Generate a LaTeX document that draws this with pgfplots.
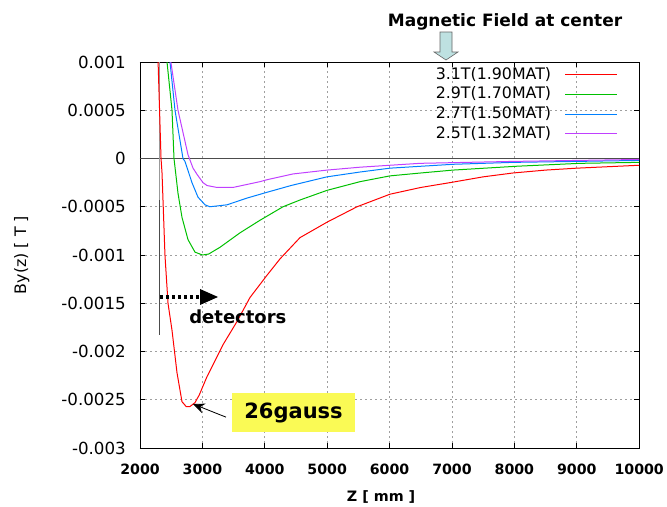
\documentclass[border=0pt]{standalone}
\usepackage{fontspec}
\setmainfont{DejaVu Sans}
\usepackage{pgfplots}
\pgfplotsset{compat=1.18}
\usetikzlibrary{arrows.meta}
\definecolor{gpred}{RGB}{255,0,0}
\definecolor{gpgreen}{RGB}{0,192,0}
\definecolor{gpblue}{RGB}{0,128,255}
\definecolor{gppurple}{RGB}{192,64,255}
\definecolor{boxyellow}{RGB}{250,250,85}
\definecolor{arrowcyan}{RGB}{190,225,225}

\begin{document}
\begin{tikzpicture}
\begin{axis}[
    scale only axis,
    width=299.5pt, height=231.6pt,
    xmin=2000, xmax=10000,
    ymin=-0.003, ymax=0.001,
    xtick={2000,3000,4000,5000,6000,7000,8000,9000,10000},
    xticklabels={2000,3000,4000,5000,6000,7000,8000,9000,10000},
    ytick={-0.003,-0.0025,-0.002,-0.0015,-0.001,-0.0005,0,0.0005,0.001},
    yticklabels={-0.003,-0.0025,-0.002,-0.0015,-0.001,-0.0005,0,0.0005,0.001},
    scaled ticks=false,
    tick align=inside,
    major tick length=3pt,
    grid=major,
    grid style={gray!75, dash pattern=on 1pt off 2pt},
    axis line style={black, line width=0.5pt},
    tick style={black, line width=0.5pt},
    xticklabel style={font=\bfseries\fontsize{8.5}{10}\selectfont, yshift=-6pt},
    yticklabel style={font=\fontsize{10}{12}\selectfont, xshift=-5pt},
    xlabel={Z [ mm ]},
    ylabel={By(z) [ T ]},
    xlabel style={font=\bfseries\fontsize{8.6}{10}\selectfont, at={(axis description cs:0.483,-0.127)}, anchor=center},
    ylabel style={font=\fontsize{9.5}{11}\selectfont, at={(axis description cs:-0.237,0.5)}, anchor=center},
    legend plot pos=right,
    legend cell align=right,
    legend image code/.code={\draw[#1] (0pt,0pt) -- (31pt,0pt);},
    legend style={at={(rel axis cs:1,1)}, anchor=north east, xshift=-10pt, yshift=0pt,
        draw=none, fill=none, font=\fontsize{9.5}{11}\selectfont,
        nodes={inner sep=1pt, text height=7pt, text depth=2pt}, row sep=0.8pt, column sep=7pt},
]
% zero line and detector edge
\addplot[black!70, line width=0.6pt, forget plot] coordinates {(2000,0) (10000,0)};
\addplot[gray!80, line width=0.7pt, forget plot] coordinates {(2310,0.001) (2310,-0.00043)};
\addplot[black!70, line width=0.7pt, forget plot] coordinates {(2310,-0.00043) (2310,-0.00183)};

\addplot[gpred, line width=0.6pt] coordinates {
(2280,0.0012) (2290,0.001) (2337,0) (2353,-0.00015) (2400,-0.001) (2449,-0.0015)
(2513,-0.00178) (2593,-0.00222) (2673,-0.00252) (2740,-0.00257) (2801,-0.00257)
(2881,-0.00253) (2950,-0.00245) (3074,-0.00226) (3330,-0.00193) (3554,-0.00169)
(3763,-0.00144) (4035,-0.00121) (4244,-0.00104) (4564,-0.00082) (4997,-0.00066)
(5478,-0.00050) (6006,-0.00037) (6500,-0.00030) (6968,-0.00025) (7500,-0.00019)
(7978,-0.00015) (8500,-0.00012) (9003,-0.00010) (9500,-0.000085) (10000,-0.00007)};
\addplot[gpgreen, line width=0.6pt] coordinates {
(2420,0.0011) (2433,0.001) (2513,0.0005) (2545,0) (2609,-0.00036) (2673,-0.00061)
(2769,-0.00084) (2881,-0.00097) (3000,-0.001) (3100,-0.00099) (3282,-0.00092)
(3603,-0.00077) (3923,-0.00064) (4292,-0.00050) (4564,-0.00043) (4997,-0.00033)
(5526,-0.00024) (6006,-0.00018) (6500,-0.00015) (7016,-0.00012) (8042,-0.00008)
(9051,-0.00005) (10000,-0.00004)};
\addplot[gpblue, line width=0.6pt] coordinates {
(2470,0.0011) (2481,0.001) (2561,0.0005) (2689,0) (2721,-0.00003) (2833,-0.00025)
(2929,-0.0004) (3042,-0.00048) (3120,-0.0005) (3394,-0.00048) (3715,-0.00041)
(4035,-0.00035) (4420,-0.00028) (4997,-0.00019) (5526,-0.00014) (6006,-0.0001)
(7016,-0.00006) (7978,-0.00004) (9003,-0.00003) (10000,-0.00002)};
\addplot[gppurple, line width=0.6pt] coordinates {
(2480,0.0011) (2497,0.00099) (2609,0.0005) (2769,0.00004) (2850,-0.0001)
(2920,-0.00017) (3010,-0.00025) (3074,-0.00028) (3234,-0.0003) (3490,-0.0003)
(3923,-0.00024) (4035,-0.00022) (4452,-0.00016) (4997,-0.00012) (5526,-0.00009)
(6487,-0.00005) (7978,-0.00003) (10000,-0.00001)};
\legend{3.1T(1.90MAT), 2.9T(1.70MAT), 2.7T(1.50MAT), 2.5T(1.32MAT)}

% detectors arrow
\draw[black, line width=2.2pt, dash pattern=on 2pt off 1.6pt]
    (axis cs:2320,-0.001435) -- (axis cs:2962,-0.001435);
\fill[black] ([yshift=4.8pt]axis cs:2962,-0.001435) -- ([xshift=10.8pt]axis cs:2962,-0.001435)
    -- ([yshift=-4.8pt]axis cs:2962,-0.001435) -- cycle;
\node[anchor=west, inner sep=0pt, font=\bfseries\fontsize{10.8}{12}\selectfont]
    at (axis cs:2785,-0.001642) {detectors};

% 26gauss label
\node[fill=boxyellow, minimum width=74pt, minimum height=23.4pt, inner sep=0pt,
    font=\bfseries\fontsize{12.6}{14}\selectfont] at (axis cs:4460,-0.002632) {26gauss};
\draw[black, line width=0.5pt, -{Stealth[length=7pt, width=6pt]}]
    (axis cs:3378,-0.00268) -- (axis cs:2849,-0.002544);
\end{axis}

% title and block arrow
\node[font=\bfseries\fontsize{10.2}{12}\selectfont] at (219pt,255.6pt) {Magnetic Field at center};
\filldraw[fill=arrowcyan, draw=gray!80!black, line width=0.4pt]
    (180pt,249.6pt) -- (187.2pt,249.6pt) -- (187.2pt,237.6pt) -- (190.8pt,237.6pt)
    -- (183.6pt,232.8pt) -- (176.4pt,237.6pt) -- (180pt,237.6pt) -- cycle;

\pgfresetboundingbox
\path (-84pt,-34.8pt) rectangle (316.2pt,268.8pt);
\end{tikzpicture}
\end{document}
